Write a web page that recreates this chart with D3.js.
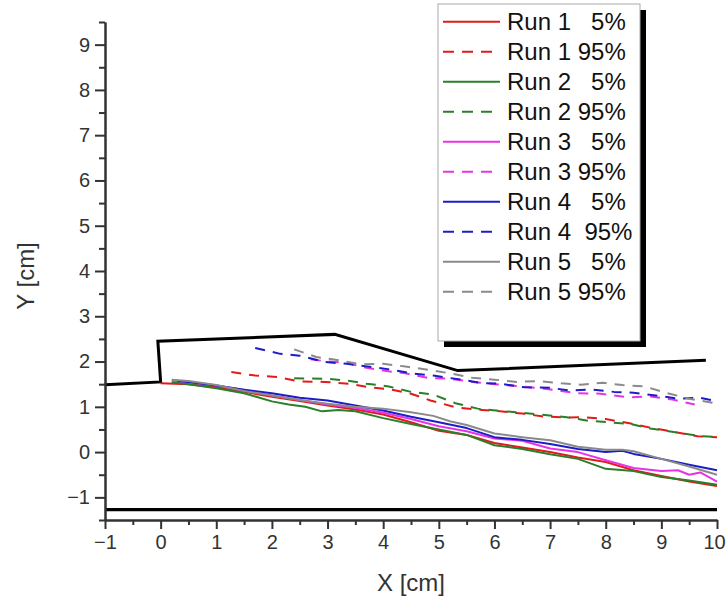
<!DOCTYPE html>
<html><head><meta charset="utf-8">
<script src="https://cdn.jsdelivr.net/npm/d3@7"></script>
<style>
html,body{margin:0;padding:0;background:#fff;}
svg{display:block;font-family:"Liberation Sans",Arial,sans-serif;}
</style></head>
<body>
<svg id="chart" width="726" height="601"></svg>
<script>
// ---- data ----
const xTicks = [-1,0,1,2,3,4,5,6,7,8,9,10];
const yTicks = [-1,0,1,2,3,4,5,6,7,8,9];
const seriesNames = ["Run 1   5%","Run 1 95%","Run 2   5%","Run 2 95%","Run 3   5%","Run 3 95%","Run 4   5%","Run 4  95%","Run 5   5%","Run 5 95%"];
const seriesColors = ["#e41a1a","#e41a1a","#2a7f2a","#2a7f2a","#e633e6","#e633e6","#1c1cc8","#1c1cc8","#8a8a8a","#8a8a8a"];
const seriesDashed = [false,true,false,true,false,true,false,true,false,true];

const run1_5 = [[0,1.52],[0.5,1.50],[1,1.43],[1.5,1.33],[2,1.22],[2.5,1.13],[3,1.03],[3.5,0.94],[4,0.83],[4.5,0.66],[5,0.47],[5.5,0.38],[6,0.20],[6.5,0.10],[7,0.0],[7.5,-0.12],[8,-0.22],[8.5,-0.40],[9,-0.53],[9.5,-0.65],[10,-0.75]];
const run1_95 = [[1.27,1.77],[1.7,1.69],[2.1,1.66],[2.5,1.56],[2.95,1.55],[3.4,1.51],[3.75,1.43],[4.15,1.38],[4.5,1.29],[4.85,1.14],[5.3,0.99],[5.7,0.94],[6.1,0.90],[6.5,0.85],[6.85,0.79],[7.3,0.76],[7.6,0.77],[8.0,0.73],[8.45,0.63],[8.8,0.54],[9.25,0.44],[9.65,0.35],[10,0.33]];
const run2_5 = [[0.2,1.55],[0.5,1.50],[1,1.41],[1.5,1.30],[2,1.12],[2.3,1.05],[2.6,1.00],[2.9,0.90],[3.2,0.93],[3.5,0.90],[4,0.75],[4.5,0.62],[5,0.50],[5.5,0.38],[6,0.15],[6.5,0.07],[7,-0.05],[7.5,-0.15],[8,-0.37],[8.5,-0.42],[9,-0.55],[9.5,-0.63],[10,-0.72]];
const run2_95 = [[2.4,1.63],[3.0,1.62],[3.4,1.57],[3.7,1.51],[4.1,1.45],[4.5,1.33],[4.9,1.27],[5.3,1.08],[5.7,0.96],[6.1,0.91],[6.5,0.87],[6.9,0.82],[7.3,0.77],[7.7,0.69],[8.05,0.66],[8.45,0.62],[8.8,0.52],[9.25,0.44],[9.65,0.36],[10,0.33]];
const run3_5 = [[0.2,1.58],[0.5,1.55],[1,1.47],[1.5,1.37],[2,1.25],[2.5,1.15],[3,1.05],[3.5,0.98],[4,0.87],[4.5,0.73],[5,0.57],[5.5,0.46],[6,0.30],[6.5,0.25],[7,0.08],[7.5,0.0],[8,-0.18],[8.5,-0.35],[9,-0.42],[9.3,-0.40],[9.5,-0.50],[9.7,-0.45],[10,-0.65]];
const run3_95 = [[2.7,2.05],[3.0,2.0],[3.3,1.98],[3.7,1.86],[4.0,1.80],[4.4,1.74],[4.8,1.64],[5.2,1.62],[5.6,1.55],[6.0,1.50],[6.5,1.45],[6.9,1.40],[7.2,1.35],[7.5,1.30],[7.9,1.29],[8.4,1.21],[8.8,1.23],[9.2,1.16],[9.6,1.05]];
const run4_5 = [[0.3,1.57],[0.5,1.55],[1,1.47],[1.5,1.38],[2,1.30],[2.5,1.20],[3,1.14],[3.5,1.03],[4,0.92],[4.5,0.78],[5,0.66],[5.5,0.53],[6,0.33],[6.5,0.27],[7,0.18],[7.5,0.07],[8,0.0],[8.3,0.03],[8.5,-0.04],[9,-0.15],[9.5,-0.28],[10,-0.40]];
const run4_95 = [[1.7,2.30],[2.15,2.17],[2.5,2.13],[2.95,1.99],[3.35,1.95],[3.8,1.88],[4.15,1.82],[4.5,1.74],[4.9,1.69],[5.4,1.60],[5.8,1.52],[6.1,1.51],[6.55,1.43],[7.0,1.42],[7.35,1.36],[7.75,1.38],[8.15,1.33],[8.5,1.31],[8.9,1.25],[9.3,1.18],[9.7,1.20],[9.9,1.15]];
const run5_5 = [[0.2,1.60],[0.5,1.57],[1,1.48],[1.5,1.35],[2,1.25],[2.5,1.15],[3,1.07],[3.5,1.00],[4,0.96],[4.5,0.88],[4.9,0.80],[5.2,0.68],[5.5,0.60],[6,0.41],[6.5,0.33],[7,0.26],[7.5,0.12],[8,0.05],[8.3,0.05],[8.5,0.02],[9,-0.15],[9.5,-0.32],[10,-0.50]];
const run5_95 = [[2.4,2.27],[2.8,2.10],[3.2,2.03],[3.6,1.94],[4.0,1.95],[4.4,1.89],[4.8,1.82],[5.2,1.74],[5.6,1.64],[6.0,1.60],[6.4,1.55],[6.8,1.57],[7.2,1.52],[7.55,1.49],[7.95,1.53],[8.3,1.48],[8.7,1.45],[9.05,1.32],[9.5,1.18],[10,1.07]];
const seriesData = [run1_5,run1_95,run2_5,run2_95,run3_5,run3_95,run4_5,run4_95,run5_5,run5_95];

// channel geometry (black outlines)
const upperBoundary = [[-1,1.49],[0,1.55],[-0.05,2.45],[3.13,2.6],[5.34,1.80],[9.8,2.03]];
const bedLine = [[-1,-1.27],[10,-1.27]];

// ---- layout ----
const svg = d3.select("#chart");
const x = d3.scaleLinear().domain([-1,10]).range([105,717]);
const y = d3.scaleLinear().domain([-1.5,9.5]).range([520,22]);
const axisColor = "#333";

const line = d3.line().x(d=>x(d[0])).y(d=>y(d[1]));

// geometry
svg.append("path").attr("d", line(upperBoundary)).attr("fill","none")
  .attr("stroke","#000").attr("stroke-width",3).attr("stroke-linejoin","miter");
svg.append("path").attr("d", line(bedLine)).attr("fill","none")
  .attr("stroke","#000").attr("stroke-width",3.2);

// series
seriesData.forEach((d,i)=>{
  svg.append("path").attr("d", line(d)).attr("fill","none")
    .attr("stroke", seriesColors[i]).attr("stroke-width",2)
    .attr("stroke-linejoin","round")
    .attr("stroke-dasharray", seriesDashed[i] ? "10,8" : null);
});

// axes
const minorX = d3.range(-0.5,10,1);
const minorY = d3.range(-1.5,9.6,1);
const gx = svg.append("g").attr("transform","translate(0,520)")
  .call(d3.axisBottom(x).tickValues(xTicks).tickFormat(d3.format("d")).tickSize(9).tickSizeOuter(0).tickPadding(6));
const gxm = svg.append("g").attr("transform","translate(0,520)")
  .call(d3.axisBottom(x).tickValues(minorX).tickFormat("").tickSize(5).tickSizeOuter(0));
const gy = svg.append("g").attr("transform","translate(105,0)")
  .call(d3.axisLeft(y).tickValues(yTicks).tickFormat(d3.format("d")).tickSize(10).tickSizeOuter(0).tickPadding(5));
const gym = svg.append("g").attr("transform","translate(105,0)")
  .call(d3.axisLeft(y).tickValues(minorY).tickFormat("").tickSize(6).tickSizeOuter(0));
[gx,gxm,gy,gym].forEach(g=>{
  g.selectAll(".domain").attr("stroke",axisColor).attr("stroke-width",2);
  g.selectAll(".tick line").attr("stroke",axisColor).attr("stroke-width",2);
  g.selectAll(".tick text").attr("fill",axisColor).style("font-size","20px")
    .style("font-family","'Liberation Sans',Arial,sans-serif");
});
// keep the last x label inside the page
gx.selectAll(".tick text").filter(d=>d===10).attr("dx","-3");

// axis titles
svg.append("text").attr("x",411).attr("y",591).attr("text-anchor","middle")
  .attr("fill",axisColor).style("font-size","24px").text("X [cm]");
svg.append("text").attr("transform","translate(34,276) rotate(-90)").attr("text-anchor","middle")
  .attr("fill",axisColor).style("font-size","24px").text("Y [cm]");

// legend
const lg = svg.append("g");
lg.append("rect").attr("x",444).attr("y",10).attr("width",202).attr("height",337).attr("fill","#000");
lg.append("rect").attr("x",438).attr("y",4).attr("width",202).attr("height",337)
  .attr("fill","#fff").attr("stroke","#aaa").attr("stroke-width",1);
seriesNames.forEach((n,i)=>{
  const cy = 21.7 + 30*i;
  lg.append("line").attr("x1",443).attr("x2",500).attr("y1",cy).attr("y2",cy)
    .attr("stroke",seriesColors[i]).attr("stroke-width",2)
    .attr("stroke-dasharray", seriesDashed[i] ? "11,8" : null);
  lg.append("text").attr("x",507).attr("y",cy+8.5).attr("fill","#111")
    .style("font-size","24px").style("white-space","pre").text(n);
});
</script>
</body></html>
